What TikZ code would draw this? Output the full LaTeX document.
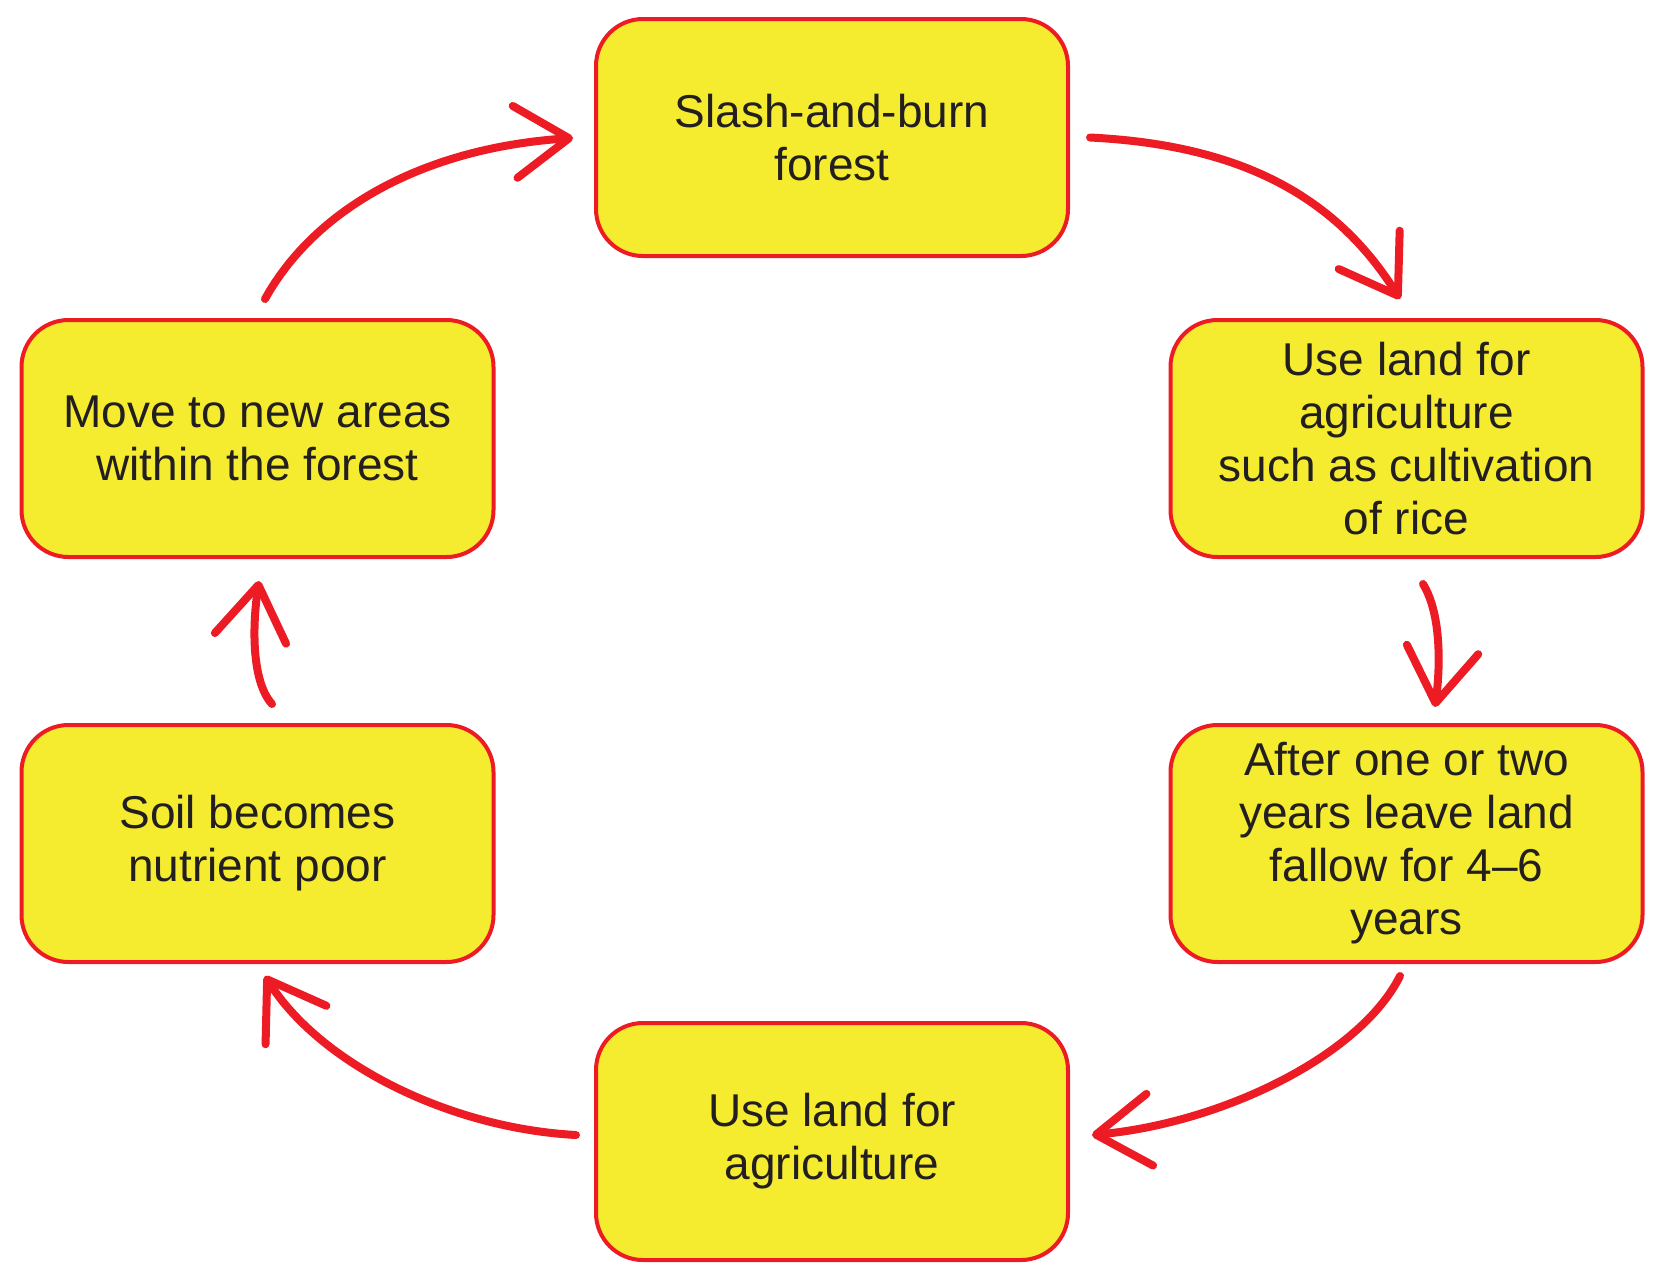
\documentclass[tikz,border=0pt]{standalone}
\usepackage{fontspec}
\setmainfont{Liberation Sans}
\usetikzlibrary{arrows.meta,calc}
\definecolor{boxred}{HTML}{ED1C24}
\definecolor{boxyellow}{HTML}{F5EC30}
\definecolor{txt}{HTML}{231F20}
\begin{document}
\begin{tikzpicture}[x=0.5pt,y=-0.5pt,
  stagebox/.style={draw=boxred, fill=boxyellow, line width=2pt, rounded corners=23.5pt,
    minimum width=236pt, minimum height=118.5pt, align=center, text=txt, inner sep=0pt,
    font=\fontsize{23}{26.5}\selectfont},
  cyclearrow/.style={draw=boxred, line width=4pt, line cap=round,
    -{Straight Barb[length=27pt,width=36pt,round]}}]
\useasboundingbox (0,0) rectangle (1665,1281);
\node[stagebox] (top) at (832,137.5) {Slash-and-burn\\forest};
\node[stagebox] (ru) at (1406.5,438.5) {Use land for\\agriculture\\such as cultivation\\of rice};
\node[stagebox] (rl) at (1406.5,843.5) {After one or two\\years leave land\\fallow for 4–6\\years};
\node[stagebox] (bot) at (832,1141.5) {Use land for\\agriculture};
\node[stagebox] (ll) at (257.5,843.5) {Soil becomes\\nutrient poor};
\node[stagebox] (lu) at (257.5,438.5) {Move to new areas\\within the forest};
\draw[cyclearrow] ($(top.east)+(20,0)$) .. controls +(152,7.5) and +(-64,-102) .. ($(ru.north)+(-6.5,-19)$);
\draw[cyclearrow] ($(ru.south)+(16.5,25)$) .. controls +(19,31) and +(5,-38) .. ($(rl.north)+(28.5,-16)$);
\draw[cyclearrow] ($(rl.south)+(-6.5,12)$) .. controls +(-40,80) and +(130,-12) .. ($(bot.east)+(22,-6.5)$);
\draw[cyclearrow] ($(bot.west)+(-18,-6.5)$) .. controls +(-128,-7) and +(55,87) .. ($(ll.south)+(7.5,12)$);
\draw[cyclearrow] ($(ll.north)+(14.5,-19)$) .. controls +(-20,-22) and +(-7,47) .. ($(lu.south)+(1.5,22)$);
\draw[cyclearrow] ($(lu.north)+(7.5,-19)$) .. controls +(50,-90) and +(-150,10) .. ($(top.west)+(-21,0.5)$);
\end{tikzpicture}
\end{document}
